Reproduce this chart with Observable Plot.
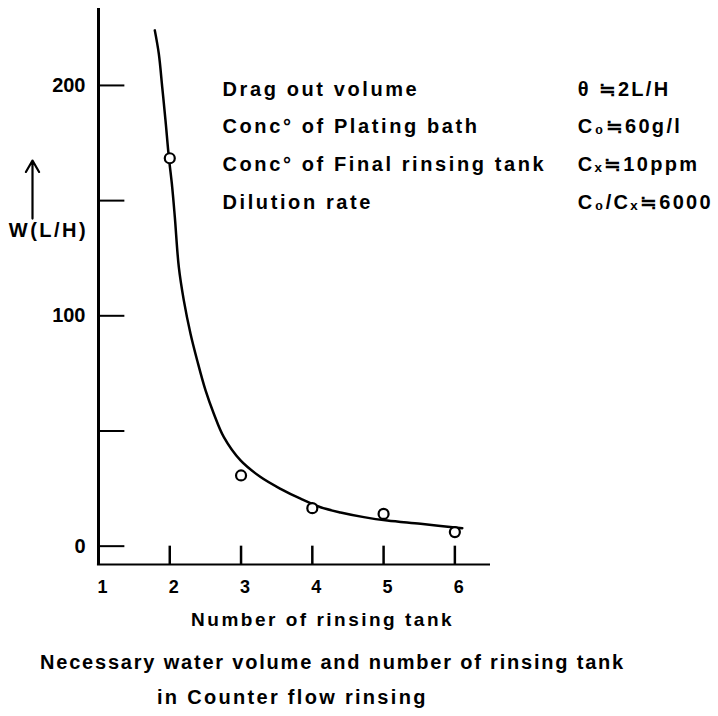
<!DOCTYPE html>
<html><head><meta charset="utf-8">
<script src="https://cdn.jsdelivr.net/npm/d3@7"></script>
<script src="https://cdn.jsdelivr.net/npm/@observablehq/plot@0.6"></script>
<style>
body{margin:0;background:#fff;font-family:"Liberation Sans",Arial,sans-serif;font-weight:bold;color:#000}
#chart svg{display:block}
#caption{margin-top:4.5px}
.cap{font-size:20px;letter-spacing:1.8px;line-height:35px;white-space:nowrap}
</style></head><body>
<div id="chart"></div>
<div id="caption">
<div class="cap" style="padding-left:40px">Necessary water volume and number of rinsing tank</div>
<div class="cap" style="padding-left:157px;letter-spacing:2.3px">in Counter flow rinsing</div>
</div>
<script>
// measured points
const tanks = [2, 3, 4, 5, 6];
const measured = [168.4, 30.7, 16.5, 14.0, 6.1];
// fitted curve
const curveX = [1.790,1.846,1.894,1.940,1.987,2.034,2.071,2.127,2.197,2.291,2.385,2.502,2.618,2.759,2.993,3.274,3.554,3.835,4.116,4.396,4.723,5.052,5.519,6.104];
const curveY = [223.9,213.8,199.3,184.8,168.9,155.9,142.8,121.1,106.7,92.2,80.6,67.6,57.5,47.3,37.2,30.0,24.9,20.6,16.9,14.6,12.6,11.1,9.7,7.8];
// axis ticks
const xTicks = [1, 2, 3, 4, 5, 6];
const yTicks = [0, 100, 200];
const yMinorTicks = [0, 50, 100, 150, 200];
// notes
const noteLabels = ["Drag out volume", "Conc° of Plating bath", "Conc° of Final rinsing tank", "Dilution rate"];
const noteValues = ["θ ≒2L/H", "C₀≒60g/l", "Cₓ≒10ppm", "C₀/Cₓ≒6000"];
const xTitle = "Number of rinsing tank";
const yTitle = "W(L/H)";

const points = tanks.map((t, i) => ({x: t, y: measured[i]}));
const curve = curveX.map((x, i) => ({x, y: curveY[i]}));

// layout (in data units)
const xDom = [1, 6.5];
const yDom = [-7.96, 233.4];
const noteX = 2.74, noteValX = 7.723, noteTop = 198.3, noteStep = 16.37;
const notes = noteLabels.map((t, i) => ({t, v: noteValues[i], y: noteTop - i * noteStep}));

const chart = Plot.plot({
  width: 718,
  height: 640,
  marginLeft: 98,
  marginRight: 228,
  marginTop: 8,
  marginBottom: 76,
  style: {fontFamily: '"Liberation Sans", Arial, sans-serif', fontSize: "20px", fontWeight: "bold", color: "#000", background: "#fff", overflow: "visible"},
  x: {domain: xDom},
  y: {domain: yDom},
  marks: [
    Plot.ruleX([xDom[0]], {y1: yDom[0], y2: yDom[1], stroke: "#000", strokeWidth: 3}),
    Plot.ruleY([yDom[0]], {x1: 0.985, x2: xDom[1], stroke: "#000", strokeWidth: 2}),
    Plot.ruleY(yMinorTicks, {x1: xDom[0], x2: 1.37, stroke: "#000", strokeWidth: 2}),
    Plot.ruleX(tanks, {y1: yDom[0], y2: 0, stroke: "#000", strokeWidth: 2.5}),
    Plot.axisY(yTicks, {tickSize: 0, tickPadding: 13, fontSize: 20, label: null}),
    Plot.axisX(xTicks, {tickSize: 0, tickPadding: 16, fontSize: 18, dx: 4, label: null}),
    Plot.line(curve, {x: "x", y: "y", curve: "catmull-rom", stroke: "#000", strokeWidth: 2.5}),
    Plot.dot(points, {x: "x", y: "y", r: 5, stroke: "#000", strokeWidth: 2.2, fill: "#fff"}),
    Plot.text(notes, {x: () => noteX, y: "y", text: "t", textAnchor: "start", fontSize: 20}),
    Plot.text(notes, {x: () => noteValX, y: "y", text: "v", textAnchor: "start", fontSize: 20}),
    Plot.text([yTitle], {x: () => 0.298, y: () => 137, text: d => d, fontSize: 20}),
    Plot.arrow([0], {x1: () => 0.074, x2: () => 0.074, y1: () => 142.2, y2: () => 167.4, stroke: "#000", strokeWidth: 2.2, headLength: 9}),
    Plot.text([xTitle], {x: () => 4.144, frameAnchor: "bottom", dy: 61, text: d => d, fontSize: 19})
  ]
});
// letter spacing to imitate the typewriter lettering
const spacing = new Map([
  ...noteLabels.map(t => [t, "2.6px"]),
  ...noteValues.map(t => [t, "2.3px"]),
  [yTitle, "2.5px"],
  [xTitle, "2.5px"]
]);
d3.select(chart).selectAll("text").each(function() {
  const s = spacing.get(this.textContent);
  if (s) this.style.letterSpacing = s;
});
document.getElementById("chart").appendChild(chart);
</script>
</body></html>
